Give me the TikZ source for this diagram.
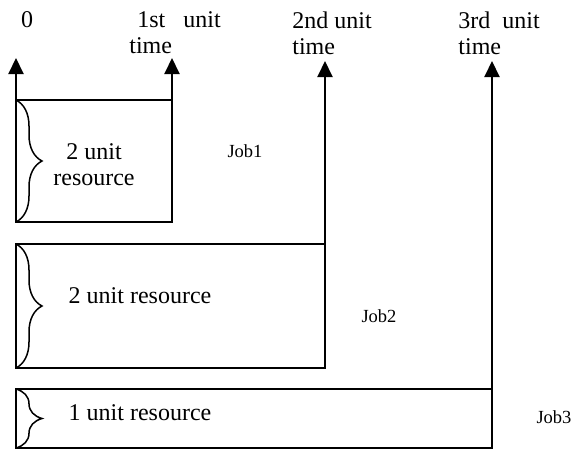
\documentclass[tikz,border=0pt]{standalone}
\usepackage{fontspec}
\setmainfont{Liberation Serif}
\usetikzlibrary{
    arrows.meta,
    decorations.pathreplacing,
    positioning
}

\begin{document}
\begin{tikzpicture}[x=0.5pt,y=-0.5pt,
    axis/.style={line width=1pt,-{Triangle[length=8pt,width=7.5pt]}},
    box/.style={line width=0.8pt},
    res/.style={line width=0.75pt,decorate,decoration={brace,amplitude=13pt}},
    lbl/.style={font=\fontsize{12}{13}\selectfont,inner sep=0pt},
    job/.style={font=\fontsize{9.25}{11}\selectfont,inner sep=0pt}]
    \useasboundingbox (0,0) rectangle (573,450);
    % time axis
    \coordinate (t0) at (16,58);
    \coordinate (t1) at (172,58);
    \coordinate (t2) at (325,61);
    \coordinate (t3) at (492,61);
    \node[lbl,anchor=base] (l0) at (27,27) {0};
    \node[lbl,anchor=north west,align=left] (l1) at (129,11) {\hspace*{4pt}1st~~~unit\\time};
    \node[lbl,anchor=north west,align=left] (l2) at (292,11) {2nd~unit\\time};
    \node[lbl,anchor=north west,align=left] (l3) at (458,11) {3rd~~unit\\time};
    % job boxes
    \coordinate (a1) at (16,100); \coordinate (b1) at (172,222);
    \coordinate (a2) at (16,244); \coordinate (b2) at (325,368);
    \coordinate (a3) at (16,389); \coordinate (b3) at (492,448);
    \draw[box] (a1) rectangle (b1);
    \draw[box] (a2) rectangle (b2);
    \draw[box] (a3) rectangle (b3);
    \draw[axis] (a1) -- (t0);
    \draw[axis] (a1 -| b1) -- (t1);
    \draw[axis] (a2 -| b2) -- (t2);
    \draw[axis] (a3 -| b3) -- (t3);
    % resources
    \draw[res] (a1) -- (a1 |- b1);
    \draw[res] (a2) -- (a2 |- b2);
    \draw[res] (a3) -- (a3 |- b3);
    \node[lbl,align=center] (r1) at (94,165) {2 unit\\resource};
    \node[lbl] (r2) at (140,296) {2 unit resource};
    \node[lbl] (r3) at (140,413) {1 unit resource};
    \node[job] (job1) at (245,151) {Job1};
    \node[job] (job2) at (379,316) {Job2};
    \node[job] (job3) at (554,417) {Job3};
\end{tikzpicture}
\end{document}
